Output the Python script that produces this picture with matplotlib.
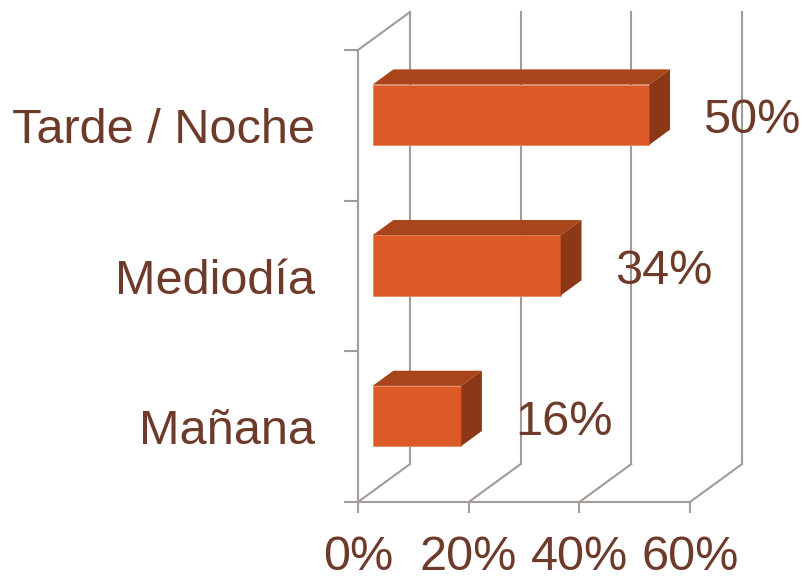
import matplotlib.pyplot as plt
from matplotlib.patches import Polygon

# data
categories = ['Mañana', 'Mediodía', 'Tarde / Noche']
values = [16, 34, 50]
xticks = [0, 20, 40, 60]
xtick_labels = ['0%', '20%', '40%', '60%']

# styling
text_col = '#6E3B2B'
grid_col = '#A39B97'
front_col = '#DC5A26'
top_col = '#A8451A'
side_col = '#8C3816'
fs = 35

# pseudo 3d depth offset (in data units)
DX, DY = 9.4, 0.252
d0, d1 = 0.28, 0.68   # bar front / back depth fraction
bh = 0.4              # bar height

fig = plt.figure(figsize=(8.03, 5.8), dpi=100)
ax = fig.add_axes([358 / 803, 78 / 580, 332 / 803, 452 / 580])
ax.set_xlim(0, 60)
ax.set_ylim(-0.5, 2.5)

lw = 1.5
for s in ['top', 'right']:
    ax.spines[s].set_visible(False)
for s in ['left', 'bottom']:
    ax.spines[s].set_color(grid_col)
    ax.spines[s].set_linewidth(lw)

# back wall verticals + floor diagonals
for x in xticks:
    ax.plot([x + DX, x + DX], [-0.5 + DY, 2.5 + DY], color=grid_col, lw=lw, clip_on=False, zorder=1)
    ax.plot([x, x + DX], [-0.5, -0.5 + DY], color=grid_col, lw=lw, clip_on=False, zorder=1)
# left wall top edge
ax.plot([0, DX], [2.5, 2.5 + DY], color=grid_col, lw=lw, clip_on=False, zorder=1)

# bars
for i, v in enumerate(values):
    x0 = d0 * DX
    y0 = i + d0 * DY - bh / 2
    ddx = (d1 - d0) * DX
    ddy = (d1 - d0) * DY
    front = Polygon([(x0, y0), (x0 + v, y0), (x0 + v, y0 + bh), (x0, y0 + bh)],
                    closed=True, facecolor=front_col, edgecolor='#E88A62', lw=0.6, zorder=3, clip_on=False)
    top = Polygon([(x0, y0 + bh), (x0 + v, y0 + bh), (x0 + v + ddx, y0 + bh + ddy), (x0 + ddx, y0 + bh + ddy)],
                  closed=True, facecolor=top_col, edgecolor='none', zorder=3, clip_on=False)
    side = Polygon([(x0 + v, y0), (x0 + v + ddx, y0 + ddy), (x0 + v + ddx, y0 + bh + ddy), (x0 + v, y0 + bh)],
                   closed=True, facecolor=side_col, edgecolor='none', zorder=3, clip_on=False)
    for p in (front, top, side):
        ax.add_patch(p)
    ax.text(v + 12.4, i + d0 * DY - 0.04, f'{v}%', ha='left', va='center',
            fontsize=fs, color=text_col, family='Liberation Sans', zorder=4)

ax.set_xticks(xticks)
ax.set_xticklabels(xtick_labels, fontsize=fs, color=text_col, family='Liberation Sans')
ax.tick_params(axis='x', length=8, width=lw, color=grid_col, pad=16)

ax.set_yticks(range(len(categories)))
ax.set_yticklabels(categories, fontsize=fs, color=text_col, family='Liberation Sans')
ax.set_yticks([-0.5, 0.5, 1.5, 2.5], minor=True)
ax.tick_params(axis='y', which='major', length=0, pad=31)
ax.tick_params(axis='y', which='minor', length=10, width=lw, color=grid_col)
ax.patch.set_alpha(0)

fig.savefig('out.png', dpi=100)
